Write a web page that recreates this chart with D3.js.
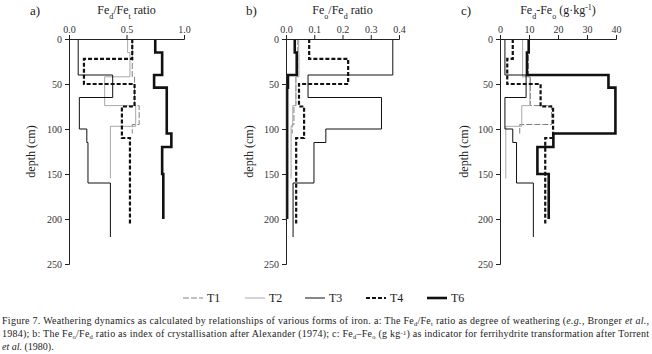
<!DOCTYPE html>
<html lang="en">
<head>
<meta charset="UTF-8">
<title>Figure 7 - iron weathering</title>
<script src="https://d3js.org/d3.v7.min.js"></script>
<style>
  body { margin: 0; background: #fff; }
  svg, svg text { font-family: "Liberation Serif", "DejaVu Serif", serif; }
  .axis text { font-size: 10px; fill: #333; font-family: "Liberation Serif", "DejaVu Serif", serif; }
  .axis path, .axis line { stroke: #222; }
</style>
</head>
<body>
<div id="chart"></div>
<script>
// depth boundaries (cm) for each profile
const depthT1 = [0, 42, 74, 95, 105];
const depthT2 = [0, 15, 42, 74, 97, 155];
const depthT3 = [0, 40, 65, 100, 115, 160, 220];
const depthT4 = [0, 22, 50, 75, 110, 165, 205];
const depthT6 = [0, 15, 40, 54, 105, 120, 150, 200];

// a) Fed/Fet
const aT1 = [0.55, 0.57, 0.61, 0.55];
const aT2 = [0.51, 0.53, 0.31, 0.58, 0.36];
const aT3 = [0.08, 0.38, 0.09, 0.155, 0.165, 0.36];
const aT4 = [0.55, 0.13, 0.57, 0.46, 0.53, 0.53];
const aT6 = [0.75, 0.81, 0.74, 0.85, 0.89, 0.81, 0.82];

// b) Feo/Fed
const bT1 = [0.042, 0.035, 0.028, 0.022];
const bT2 = [0.045, 0.046, 0.035, 0.024, 0.018];
const bT3 = [0.378, 0.078, 0.338, 0.141, 0.099, 0.025];
const bT4 = [0.082, 0.22, 0.046, 0.064, 0.036, 0.036];
const bT6 = [0.031, 0.038, 0.007, 0.004, 0.004, 0.004, 0.004];

// c) Fed-Feo (g/kg)
const cT1 = [9.8, 10.5, 17.8, 6.8];
const cT2 = [7.8, 7.8, 10.3, 7.5, 2.0];
const cT3 = [1.7, 9.0, 1.7, 4.4, 5.7, 11.5];
const cT4 = [4.4, 2.5, 14.0, 18.3, 15.6, 15.6];
const cT6 = [9.9, 9.3, 37.4, 39.8, 18.4, 12.9, 16.8];

const treatments = ["T1", "T2", "T3", "T4", "T6"];
const depthTicks = [0, 50, 100, 150, 200, 250];

const styles = {
  T1: { stroke: "#808080", width: 1, dash: "6,2" },
  T2: { stroke: "#a8a8a8", width: 1, dash: null },
  T3: { stroke: "#111", width: 1, dash: null },
  T4: { stroke: "#111", width: 2.2, dash: "4,2" },
  T6: { stroke: "#111", width: 2.6, dash: null }
};

const depths = { T1: depthT1, T2: depthT2, T3: depthT3, T4: depthT4, T6: depthT6 };

const serif = "Liberation Serif, DejaVu Serif, serif";

const panels = [
  { label: "a)", x0: 69, x1: 184, domain: [0, 1], ticks: [0, 0.5, 1.0], fmt: d3.format(".1f"),
    labelX: 35, tag: 30,
    series: { T1: aT1, T2: aT2, T3: aT3, T4: aT4, T6: aT6 },
    title: [["Fe", 0], ["d", 1], ["/Fe", 0], ["t", 1], [" ratio", 0]] },
  { label: "b)", x0: 286, x1: 399, domain: [0, 0.4], ticks: [0, 0.1, 0.2, 0.3, 0.4], fmt: d3.format(".1f"),
    labelX: 253, tag: 246,
    series: { T1: bT1, T2: bT2, T3: bT3, T4: bT4, T6: bT6 },
    title: [["Fe", 0], ["o", 1], ["/Fe", 0], ["d", 1], [" ratio", 0]] },
  { label: "c)", x0: 500, x1: 616, domain: [0, 40], ticks: [0, 10, 20, 30, 40], fmt: d3.format("d"),
    labelX: 468, tag: 461,
    series: { T1: cT1, T2: cT2, T3: cT3, T4: cT4, T6: cT6 },
    title: [["Fe", 0], ["d", 1], ["-Fe", 0], ["o", 1], [" (g\u00b7kg", 0], ["-1", -1], [")", 0]] }
];

const svg = d3.select("#chart").append("svg")
  .attr("width", 652).attr("height", 354)
  .attr("font-family", serif);

const y = d3.scaleLinear().domain([0, 250]).range([39, 264]);

const line = d3.line().x(d => d[0]).y(d => d[1]);

panels.forEach(p => {
  const x = d3.scaleLinear().domain(p.domain).range([p.x0, p.x1]);
  const g = svg.append("g");

  // series as step profiles
  treatments.forEach(t => {
    const vals = p.series[t];
    const dep = depths[t];
    const pts = [];
    vals.forEach((v, i) => {
      pts.push([x(v), y(dep[i])]);
      pts.push([x(v), y(dep[i + 1])]);
    });
    const s = styles[t];
    g.append("path")
      .attr("d", line(pts))
      .attr("fill", "none")
      .attr("stroke", s.stroke)
      .attr("stroke-width", s.width)
      .attr("stroke-dasharray", s.dash);
  });

  // axes
  g.append("g").attr("class", "axis")
    .attr("transform", `translate(0,${y(0)})`)
    .call(d3.axisTop(x).tickValues(p.ticks).tickFormat(p.fmt).tickSize(4).tickPadding(2))
    .attr("font-family", serif).attr("font-size", 10);
  g.append("g").attr("class", "axis")
    .attr("transform", `translate(${p.x0},0)`)
    .call(d3.axisLeft(y).tickValues(depthTicks).tickSize(4).tickPadding(3))
    .attr("font-family", serif).attr("font-size", 10);

  // panel letter
  svg.append("text").attr("x", p.tag).attr("y", 15)
    .attr("font-size", 13).attr("fill", "#222").text(p.label);

  // title with subscripts
  const tt = svg.append("text").attr("x", (p.x0 + p.x1) / 2).attr("y", 14)
    .attr("text-anchor", "middle").attr("font-size", 12).attr("fill", "#222");
  p.title.forEach(([s, sub]) => {
    const sp = tt.append("tspan").text(s);
    if (sub === 1) sp.attr("font-size", 8).attr("baseline-shift", "sub");
    if (sub === -1) sp.attr("font-size", 8).attr("baseline-shift", "super");
  });

  svg.append("text")
    .attr("transform", `translate(${p.labelX},${y(125)}) rotate(-90)`)
    .attr("text-anchor", "middle").attr("font-size", 12).attr("fill", "#222")
    .text("depth (cm)");
});

// legend
const legX = { T1: 183, T2: 245, T3: 305, T4: 366, T6: 427 };
treatments.forEach(t => {
  const s = styles[t];
  svg.append("line")
    .attr("x1", legX[t]).attr("x2", legX[t] + 20)
    .attr("y1", 298).attr("y2", 298)
    .attr("stroke", s.stroke).attr("stroke-width", s.width)
    .attr("stroke-dasharray", s.dash);
  svg.append("text").attr("x", legX[t] + 24).attr("y", 302)
    .attr("font-size", 12).attr("fill", "#222").text(t);
});

// caption (small shifts for sub/superscripts so lines do not collide)
const cap = svg.append("g").attr("font-size", 10).attr("fill", "#222");
const sub = (el, s) => el.append("tspan").attr("font-size", 6.5).attr("baseline-shift", "-1.5").text(s);
const sup = (el, s) => el.append("tspan").attr("font-size", 6.5).attr("baseline-shift", "2.5").text(s);

const l1 = cap.append("text").attr("x", 2).attr("y", 324)
  .attr("textLength", 647).attr("lengthAdjust", "spacing");
l1.append("tspan").text("Figure 7. Weathering dynamics as calculated by relationships of various forms of iron. a: The Fe");
sub(l1, "d");
l1.append("tspan").text("/Fe");
sub(l1, "t");
l1.append("tspan").text(" ratio as degree of weathering (");
l1.append("tspan").attr("font-style", "italic").text("e.g.");
l1.append("tspan").text(", Bronger ");
l1.append("tspan").attr("font-style", "italic").text("et al.");
l1.append("tspan").text(",");

const l2 = cap.append("text").attr("x", 2).attr("y", 337)
  .attr("textLength", 647).attr("lengthAdjust", "spacing");
l2.append("tspan").text("1984); b: The Fe");
sub(l2, "o");
l2.append("tspan").text("/Fe");
sub(l2, "d");
l2.append("tspan").text(" ratio as index of crystallisation after Alexander (1974); c: Fe");
sub(l2, "d");
l2.append("tspan").text("\u2013Fe");
sub(l2, "o");
l2.append("tspan").text(" (g kg");
sup(l2, "-1");
l2.append("tspan").text(") as indicator for ferrihydrite transformation after Torrent");

const l3 = cap.append("text").attr("x", 2).attr("y", 350);
l3.append("tspan").attr("font-style", "italic").text("et al.");
l3.append("tspan").text(" (1980).");
</script>
</body>
</html>
